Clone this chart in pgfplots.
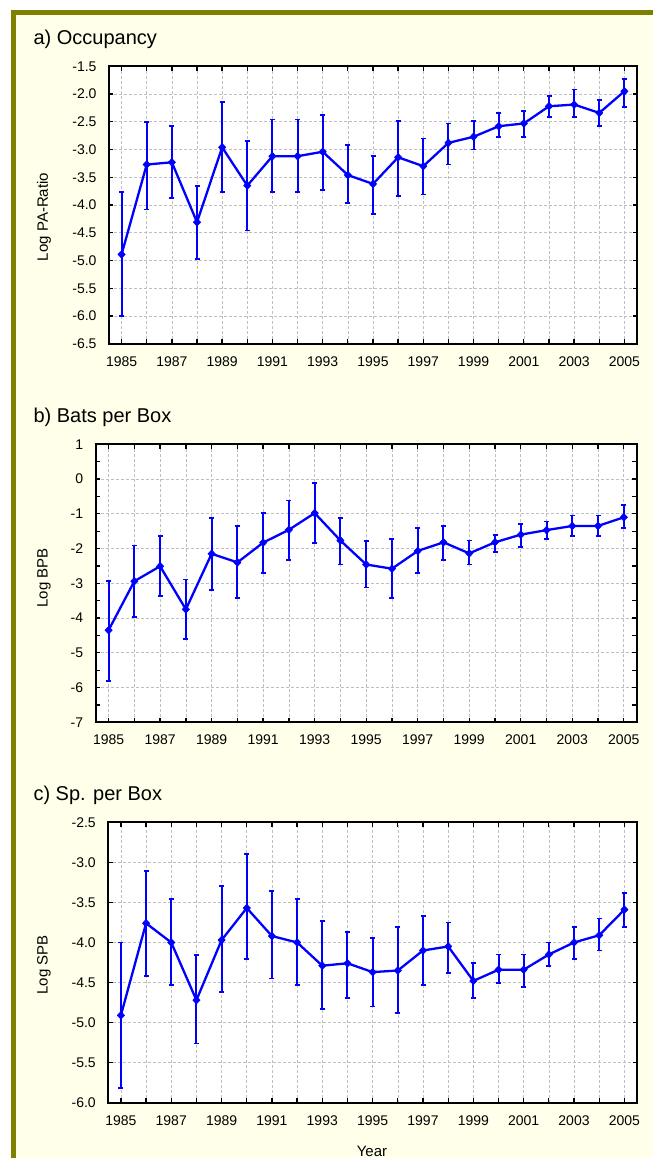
\documentclass[border=0pt]{standalone}
\usepackage{fontspec}
\setmainfont{Liberation Sans}
\usepackage{pgfplots}
\usepackage{pgfplotstable}
\pgfplotsset{compat=1.18}
\definecolor{cream}{RGB}{255,255,234}
\definecolor{olivebar}{RGB}{128,128,0}
\definecolor{pblue}{RGB}{0,0,255}

\pgfplotstableread{
year y hi lo
1985 -4.89 -3.77 -6.00
1986 -3.27 -2.50 -4.08
1987 -3.23 -2.58 -3.88
1988 -4.31 -3.65 -4.97
1989 -2.96 -2.15 -3.77
1990 -3.65 -2.84 -4.46
1991 -3.12 -2.46 -3.77
1992 -3.12 -2.46 -3.77
1993 -3.04 -2.38 -3.73
1994 -3.46 -2.92 -3.96
1995 -3.62 -3.12 -4.16
1996 -3.14 -2.49 -3.84
1997 -3.30 -2.80 -3.81
1998 -2.88 -2.53 -3.27
1999 -2.77 -2.49 -3.00
2000 -2.58 -2.34 -2.77
2001 -2.53 -2.31 -2.77
2002 -2.22 -2.03 -2.42
2003 -2.19 -1.92 -2.42
2004 -2.34 -2.11 -2.57
2005 -1.95 -1.73 -2.23
}\tablea

\pgfplotstableread{
year y hi lo
1985 -4.35 -2.94 -5.82
1986 -2.94 -1.91 -3.98
1987 -2.51 -1.65 -3.36
1988 -3.75 -2.89 -4.61
1989 -2.15 -1.11 -3.20
1990 -2.40 -1.36 -3.43
1991 -1.83 -0.98 -2.70
1992 -1.46 -0.62 -2.33
1993 -0.98 -0.12 -1.84
1994 -1.77 -1.11 -2.46
1995 -2.46 -1.78 -3.12
1996 -2.58 -1.72 -3.43
1997 -2.07 -1.41 -2.70
1998 -1.82 -1.35 -2.33
1999 -2.14 -1.77 -2.46
2000 -1.82 -1.60 -2.09
2001 -1.60 -1.29 -1.96
2002 -1.47 -1.22 -1.72
2003 -1.35 -1.05 -1.65
2004 -1.35 -1.05 -1.65
2005 -1.10 -0.74 -1.41
}\tableb

\pgfplotstableread{
year y hi lo
1985 -4.91 -4.00 -5.82
1986 -3.76 -3.11 -4.42
1987 -4.00 -3.46 -4.53
1988 -4.72 -4.16 -5.26
1989 -3.97 -3.30 -4.62
1990 -3.57 -2.90 -4.21
1991 -3.92 -3.36 -4.45
1992 -4.00 -3.46 -4.53
1993 -4.29 -3.73 -4.83
1994 -4.26 -3.87 -4.69
1995 -4.37 -3.94 -4.80
1996 -4.35 -3.81 -4.88
1997 -4.10 -3.67 -4.53
1998 -4.05 -3.75 -4.38
1999 -4.48 -4.26 -4.69
2000 -4.34 -4.15 -4.51
2001 -4.34 -4.15 -4.56
2002 -4.15 -4.00 -4.29
2003 -4.00 -3.81 -4.21
2004 -3.91 -3.70 -4.10
2005 -3.59 -3.38 -3.81
}\tablec

\pgfplotsset{
  panel/.style={
    scale only axis,
    xmin=1984.5, xmax=2005.5,
    axis background/.style={fill=white},
    axis line style={black, line width=2pt},
    tick style={black, line width=1.3pt},
    tick align=inside,
    major tick length=4.5pt,
    minor tick length=4.5pt,
    grid=major,
    grid style={densely dashed, black!25, line width=0.6pt},
    xtick={1985,...,2005},
    xticklabels={1985,,1987,,1989,,1991,,1993,,1995,,1997,,1999,,2001,,2003,,2005},
    ticklabel style={font=\fontsize{14}{14}\selectfont},
    xticklabel style={yshift=-9pt},
    yticklabel style={xshift=-9pt},
  },
  ser/.style={
    pblue, line width=2.3pt, mark=diamond*, mark size=3.9pt,
    mark options={solid, fill=pblue, xscale=1.25, line width=0.5pt},
    error bars/.cd, y dir=both, y explicit,
    error bar style={line width=2pt, pblue},
    error mark options={rotate=90, line width=1.8pt, mark size=2.5pt, pblue},
  },
}

\begin{document}
\begin{tikzpicture}[x=1pt,y=1pt]
\fill[white] (0,0) rectangle (653,1158);
\fill[olivebar] (11,0) rectangle (653,1148);
\fill[cream] (16,0) rectangle (653,1143);

% panel a
\node[anchor=base west, font=\fontsize{20}{20}\selectfont] at (30,1113) {a) Occupancy};
\node[rotate=90, font=\fontsize{15}{15}\selectfont] at (44,941) {Log PA-Ratio};
\begin{axis}[panel, at={(109pt,1091.7pt)}, anchor=north west,
  width=528pt, height=277.5pt,
  ymin=-6.5, ymax=-1.5,
  ytick={-6.5,-6,...,-1.5},
  yticklabels={-6.5,-6.0,-5.5,-5.0,-4.5,-4.0,-3.5,-3.0,-2.5,-2.0,-1.5}]
\addplot[ser] table[x=year, y=y, y error plus expr=\thisrow{hi}-\thisrow{y}, y error minus expr=\thisrow{y}-\thisrow{lo}] {\tablea};
\end{axis}

% panel b
\node[anchor=base west, font=\fontsize{20}{20}\selectfont] at (30,735.3) {b) Bats per Box};
\node[rotate=90, font=\fontsize{15}{15}\selectfont] at (44,580) {Log BPB};
\begin{axis}[panel, at={(95.7pt,713.7pt)}, anchor=north west,
  width=541pt, height=278pt,
  ymin=-7, ymax=1,
  ytick={-7,...,1},
  yticklabels={-7,-6,-5,-4,-3,-2,-1,0,1},
  minor ytick={-6.5,-5.5,...,0.5}]
\addplot[ser] table[x=year, y=y, y error plus expr=\thisrow{hi}-\thisrow{y}, y error minus expr=\thisrow{y}-\thisrow{lo}] {\tableb};
\end{axis}

% panel c
\node[anchor=base west, font=\fontsize{20}{20}\selectfont] at (30,357.2) {c) Sp. per Box};
\node[rotate=90, font=\fontsize{15}{15}\selectfont] at (44,193) {Log SPB};
\begin{axis}[panel, at={(108.3pt,335.7pt)}, anchor=north west,
  width=528.7pt, height=280.4pt,
  ymin=-6, ymax=-2.5,
  ytick={-6,-5.5,...,-2.5},
  yticklabels={-6.0,-5.5,-5.0,-4.5,-4.0,-3.5,-3.0,-2.5}]
\addplot[ser] table[x=year, y=y, y error plus expr=\thisrow{hi}-\thisrow{y}, y error minus expr=\thisrow{y}-\thisrow{lo}] {\tablec};
\end{axis}
\node[anchor=base, font=\fontsize{15}{15}\selectfont] at (372,1.5) {Year};

\pgfresetboundingbox
\path[use as bounding box] (0,0) rectangle (653,1158);
\end{tikzpicture}
\end{document}
